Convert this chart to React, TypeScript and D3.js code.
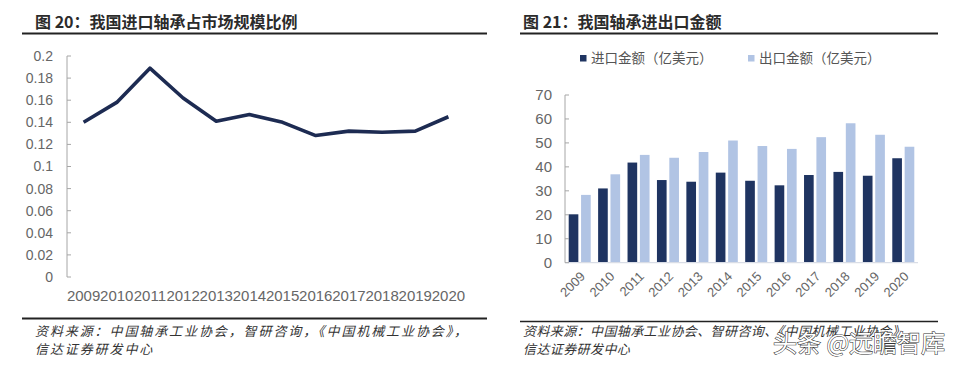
import React, { useEffect } from 'react';
import * as d3 from 'd3';

// shared categories
const years = ['2009', '2010', '2011', '2012', '2013', '2014', '2015', '2016', '2017', '2018', '2019', '2020'];

// 图20: 进口轴承占市场规模比例
const importShare = [0.14, 0.158, 0.189, 0.162, 0.141, 0.147, 0.14, 0.128, 0.132, 0.131, 0.132, 0.145];
const shareTicks = [0, 0.02, 0.04, 0.06, 0.08, 0.1, 0.12, 0.14, 0.16, 0.18, 0.2];

// 图21: 进出口金额（亿美元）
const importValue = [20.2, 31, 41.8, 34.5, 33.8, 37.6, 34.2, 32.3, 36.6, 37.9, 36.3, 43.6];
const exportValue = [28.3, 36.9, 45, 43.8, 46.2, 51, 48.7, 47.5, 52.4, 58.2, 53.4, 48.4];
const valueTicks = [0, 10, 20, 30, 40, 50, 60, 70];
const seriesNames = ['进口金额（亿美元）', '出口金额（亿美元）'];

const DARK = '#1f3461';
const LIGHT = '#b1c4e4';
const AXIS = '#a6a6a6';
const LABEL = '#666';
const NUM_FONT = '"Liberation Sans", Arial, sans-serif';
const CJK_FONT = '"Noto Sans CJK SC", sans-serif';

const App = () => {
  useEffect(() => {
    document.body.style.margin = '0';
  }, []);

  // left chart scales
  const lx = d3.scaleBand<string>().domain(years).range([67, 465]);
  const ly = d3.scaleLinear().domain([0, 0.2]).range([277, 56]);
  const line = d3.line<number>()
    .x((_, i) => (lx(years[i]) as number) + lx.bandwidth() / 2)
    .y(d => ly(d));

  // right chart scales
  const rx = d3.scaleBand<string>().domain(years).range([565, 918]);
  const inner = d3.scaleBand<number>().domain([0, 1])
    .range([3.7, rx.bandwidth() - 3.7]).paddingInner(0.22);
  const ry = d3.scaleLinear().domain([0, 70]).range([262.7, 95]);
  const series = [importValue, exportValue];
  const colors = [DARK, LIGHT];

  return (
    <svg width={960} height={366} style={{ display: 'block', background: '#fff' }}>
      {/* titles */}
      <text x={35} y={28} fontFamily={CJK_FONT} fontWeight={700} fontSize={16} fill="#2b2b2b">
        图 20：我国进口轴承占市场规模比例
      </text>
      <line x1={22} x2={487} y1={33.5} y2={33.5} stroke="#222" strokeWidth={2} />
      <text x={523} y={28} fontFamily={CJK_FONT} fontWeight={700} fontSize={16} fill="#2b2b2b">
        图 21：我国轴承进出口金额
      </text>
      <line x1={520} x2={938} y1={33.5} y2={33.5} stroke="#222" strokeWidth={2} />

      {/* left: line chart */}
      <g>
        <line x1={67} x2={67} y1={ly(0.2)} y2={ly(0)} stroke={AXIS} />
        {shareTicks.map(t => (
          <g key={t}>
            <line x1={67} x2={71} y1={ly(t)} y2={ly(t)} stroke={AXIS} />
            <text x={53} y={ly(t)} dy="0.35em" textAnchor="end" fontFamily={NUM_FONT} fontSize={14} fill={LABEL}>
              {d3.format('~g')(t)}
            </text>
          </g>
        ))}
        {years.map(y => (
          <text key={y} x={(lx(y) as number) + lx.bandwidth() / 2} y={301} textAnchor="middle"
            fontFamily={NUM_FONT} fontSize={15} fill={LABEL}>
            {y}
          </text>
        ))}
        <path d={line(importShare) || ''} fill="none" stroke="#1d2b52" strokeWidth={3.6} strokeLinejoin="round" />
      </g>

      {/* right: grouped bars */}
      <g>
        {seriesNames.map((name, i) => {
          const x0 = i === 0 ? 580 : 748;
          return (
            <g key={name}>
              <rect x={x0} y={55} width={6.5} height={6.5} fill={colors[i]} />
              <text x={x0 + 11} y={58.5} dy="0.35em" fontFamily={CJK_FONT} fontSize={13.5} fill="#555">
                {name}
              </text>
            </g>
          );
        })}
        {years.map((y, j) => (
          <g key={y} transform={`translate(${rx(y)},0)`}>
            {series.map((s, i) => (
              <rect key={i} x={inner(i)} y={ry(s[j])} width={inner.bandwidth()} height={ry(0) - ry(s[j])}
                fill={colors[i]} />
            ))}
          </g>
        ))}
        <line x1={565} x2={918} y1={ry(0)} y2={ry(0)} stroke="#d9dde6" strokeWidth={1.2} />
        <line x1={565} x2={565} y1={ry(70)} y2={ry(0)} stroke={AXIS} />
        {valueTicks.map(t => (
          <g key={t}>
            <line x1={565} x2={569} y1={ry(t)} y2={ry(t)} stroke={AXIS} />
            <text x={552} y={ry(t)} dy="0.35em" textAnchor="end" fontFamily={NUM_FONT} fontSize={15} fill={LABEL}>
              {t}
            </text>
          </g>
        ))}
        {years.map(y => {
          const cx = (rx(y) as number) + rx.bandwidth() / 2 + 3;
          return (
            <text key={y} transform={`translate(${cx},${274}) rotate(-45)`} dy="0.35em" textAnchor="end"
              fontFamily={NUM_FONT} fontSize={13} fill={LABEL}>
              {y}
            </text>
          );
        })}
      </g>

      {/* footnotes */}
      <line x1={22} x2={487} y1={318.5} y2={318.5} stroke="#222" strokeWidth={2} />
      <g fontFamily={CJK_FONT} fontSize={13} fontStyle="italic" fill="#333" letterSpacing={1.9}>
        <text x={35} y={336}>资料来源：中国轴承工业协会，智研咨询，《中国机械工业协会》，</text>
        <text x={35} y={354}>信达证券研发中心</text>
      </g>
      <line x1={520} x2={938} y1={321.5} y2={321.5} stroke="#222" strokeWidth={1.5} />
      <g fontFamily={CJK_FONT} fontSize={13} fontStyle="italic" fill="#333" letterSpacing={0.4}>
        <text x={523} y={336}>资料来源：中国轴承工业协会、智研咨询、《中国机械工业协会》，</text>
        <text x={523} y={354}>信达证券研发中心</text>
      </g>
      {/* watermark */}
      <text x={773} y={352} fontFamily={CJK_FONT} fontSize={24} fill="#fff" stroke="#333" strokeWidth={1.1}
        paintOrder="stroke">
        头条 @远瞻智库
      </text>
    </svg>
  );
};

export default App;
